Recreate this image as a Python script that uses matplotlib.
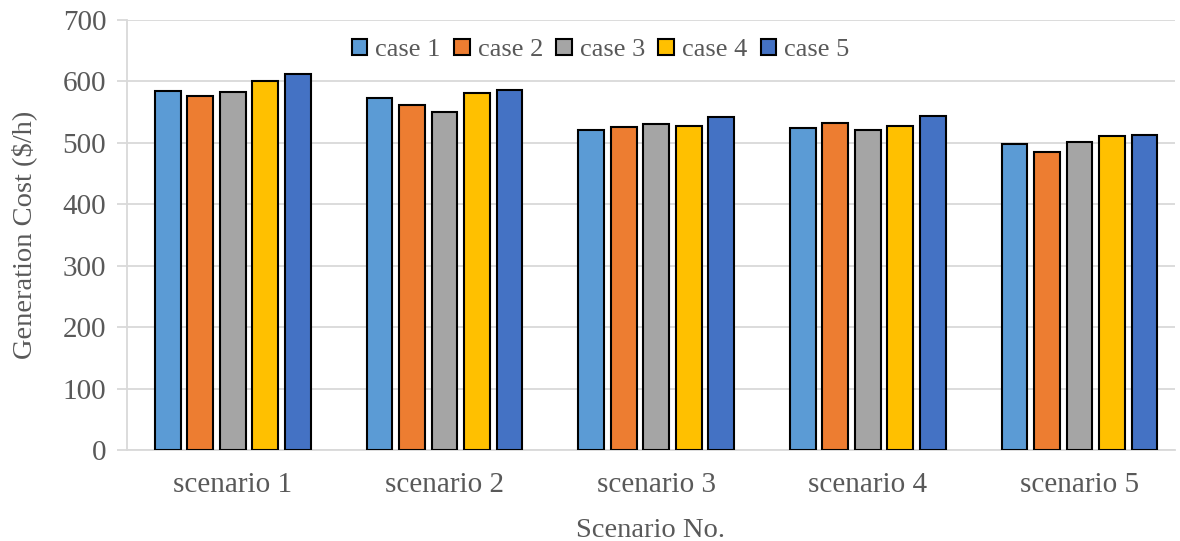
import numpy as np
import matplotlib.pyplot as plt

plt.rcParams['font.family'] = ['Liberation Serif', 'DejaVu Serif']

scenarios = ['scenario 1', 'scenario 2', 'scenario 3', 'scenario 4', 'scenario 5']
cases = ['case 1', 'case 2', 'case 3', 'case 4', 'case 5']
case1 = [585, 573, 521, 524, 498]
case2 = [577, 562, 526, 533, 485]
case3 = [583, 550, 530, 521, 502]
case4 = [601, 581, 528, 528, 511]
case5 = [612, 586, 542, 543, 513]
colors = ['#5B9BD5', '#ED7D31', '#A5A5A5', '#FFC000', '#4472C4']

series = [case1, case2, case3, case4, case5]
x = np.arange(len(scenarios))
slot = 0.1535
width = 0.122

fig = plt.figure(figsize=(11.8, 5.41), dpi=100)
ax = fig.add_axes([0.1076, 0.168, 0.888, 0.795])

for i, (vals, name, col) in enumerate(zip(series, cases, colors)):
    ax.bar(x + (i - 2) * slot, vals, width, color=col, edgecolor='black',
           linewidth=1.5, label=name, zorder=3)

ax.set_xlim(-0.5, 4.45)
ax.set_ylim(0, 700)
ax.set_yticks(range(0, 701, 100))
ax.set_xticks(x)
ax.set_xticklabels(scenarios)
ax.yaxis.grid(True, color='#D9D9D9', linewidth=1.3, zorder=0)

for side in ['top', 'right']:
    ax.spines[side].set_visible(False)
ax.spines['left'].set_color('#D9D9D9')
ax.spines['bottom'].set_color('#D9D9D9')
ax.spines['left'].set_linewidth(1.3)
ax.spines['bottom'].set_linewidth(1.3)
ax.tick_params(axis='y', colors='#D9D9D9', labelcolor='#595959', labelsize=21,
               length=7, width=1.3, pad=8)
ax.tick_params(axis='x', length=0, labelcolor='#595959', labelsize=21, pad=16)

ax.set_ylabel('Generation Cost ($/h)', fontsize=20.5, color='#595959', labelpad=18)
ax.set_xlabel('Scenario No.', fontsize=20.5, color='#595959', labelpad=14)

ax.legend(loc='upper center', bbox_to_anchor=(0.452, 1.012), ncol=5, frameon=False,
          fontsize=19, handlelength=0.6, handleheight=0.6, handletextpad=0.3,
          columnspacing=0.5, labelcolor='#595959')

fig.savefig('out.png', dpi=100)
